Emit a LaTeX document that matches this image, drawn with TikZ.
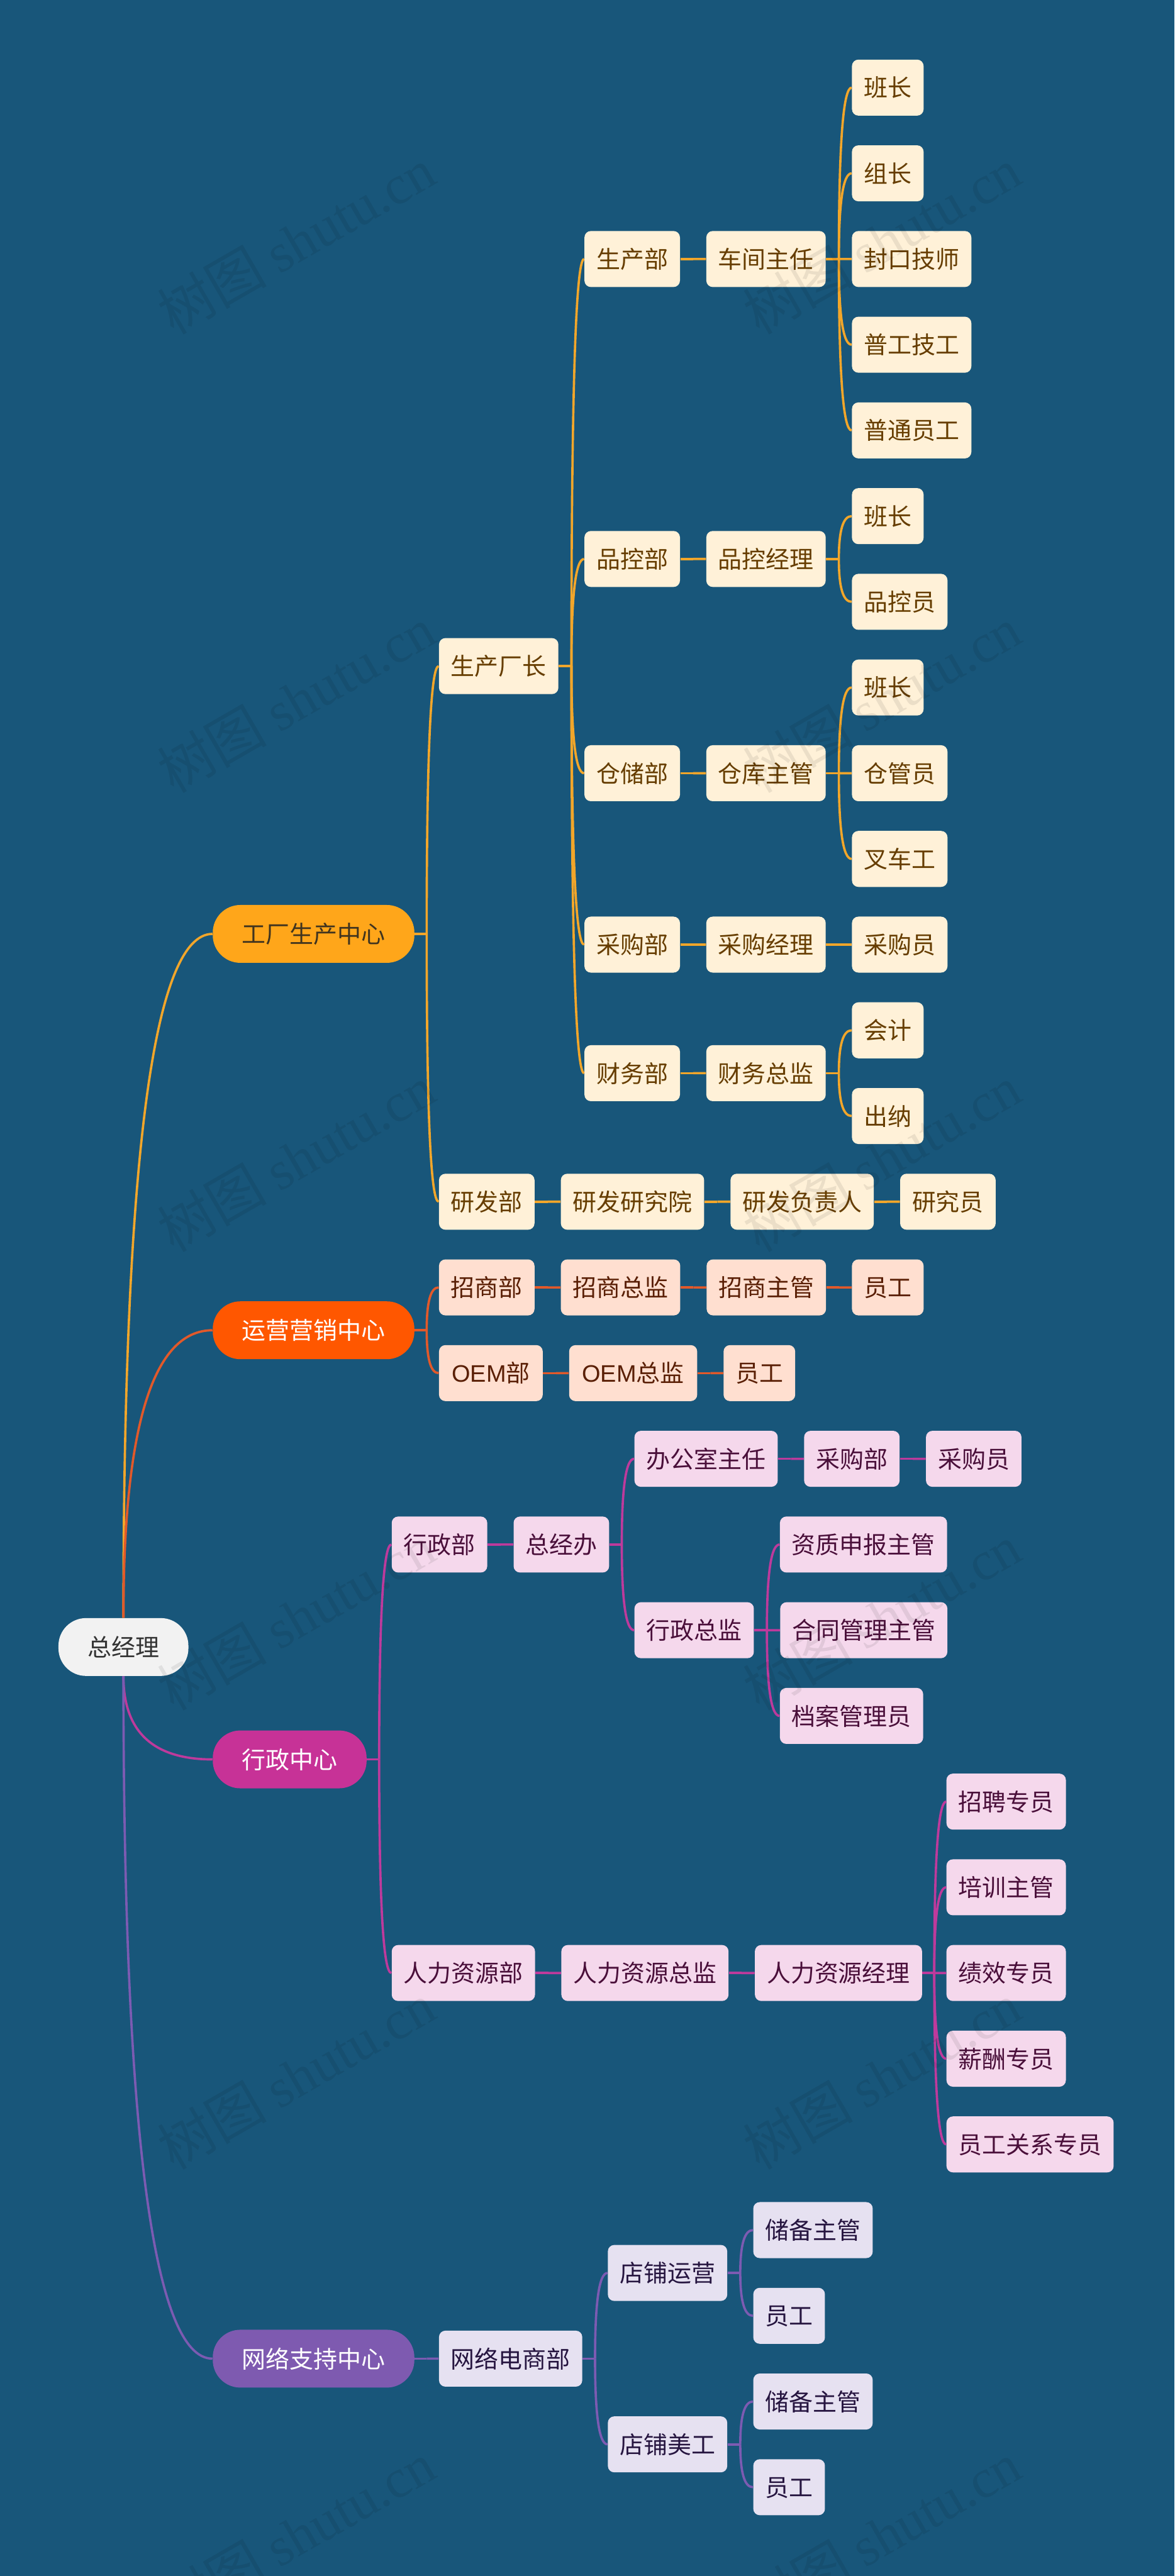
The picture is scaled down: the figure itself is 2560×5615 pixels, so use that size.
\documentclass[tikz,border=0pt]{standalone}
\usepackage{fontspec}
\setmainfont{Noto Sans CJK SC}
\newfontfamily\wmserif{Liberation Serif}
\newfontfamily\oemfont{Liberation Sans}
\usetikzlibrary{positioning,calc}
\definecolor{bgblue}{HTML}{18567A}
\definecolor{lineA}{HTML}{F2A62A}
\definecolor{lineB}{HTML}{E2592A}
\definecolor{lineC}{HTML}{BE3A9C}
\definecolor{lineD}{HTML}{7C5BB2}
\definecolor{hubA}{HTML}{FFA61A}
\definecolor{hubB}{HTML}{FF5700}
\definecolor{hubC}{HTML}{C73297}
\definecolor{hubD}{HTML}{7E5AB0}
\definecolor{hubAtext}{HTML}{40341F}
\definecolor{cream}{HTML}{FFF1D8}
\definecolor{creamtext}{HTML}{663D00}
\definecolor{peach}{HTML}{FFDFD0}
\definecolor{peachtext}{HTML}{5A1F05}
\definecolor{pinkish}{HTML}{F5D8EC}
\definecolor{pinktext}{HTML}{4A0F3A}
\definecolor{lilac}{HTML}{E6E1F1}
\definecolor{lilactext}{HTML}{261540}
\newcommand{\wmtext}{树图 {\wmserif shutu.cn}}
\newcommand{\bend}[3]{
	\draw[#1] (#2) .. controls ($(#2)!2/3!(#2 |- #3)$) and ($(#3)!2/3!(#2 |- #3)$) .. (#3);
}
\newcommand{\branch}[3]{
	\path (#2.east) -- (#2.east -| #3.west) coordinate[midway] (m);
	\draw[#1] (#2.east) -- (m);
	\bend{#1}{m}{#3.west}
}
\tikzset{
	box/.style={rounded corners=0.14cm,minimum height=1.22cm,inner xsep=0.26cm,inner ysep=0pt,
		text height=0.46cm,text depth=0.06cm,font=\fontsize{14.8pt}{18pt}\selectfont},
	creambox/.style={box,fill=cream,text=creamtext},
	peachbox/.style={box,fill=peach,text=peachtext},
	pinkbox/.style={box,fill=pinkish,text=pinktext},
	lilacbox/.style={box,fill=lilac,text=lilactext},
	hub/.style={box,rounded corners=0.6cm,minimum height=1.26cm,inner xsep=0.635cm},
	link/.style={line width=0.05cm},
	wmark/.style={rotate=30,text=black,text opacity=0.08,font=\fontsize{34pt}{40pt}\selectfont}
}
\begin{document}
\begin{tikzpicture}[x=0.01cm,y=-0.01cm,node distance=0.56cm,
		declare function={row(\k)=191+186.8*\k;}]
		\useasboundingbox (0,0) rectangle (2560,5615);
		\fill[bgblue] (0,0) rectangle (2560,5615);

		\node[hub,fill=black!5,text=black!80] (ceo) at (269,3590) {总经理};
		\node[hub,anchor=west,fill=hubA,text=hubAtext] (factory) at (463,{row(9.875)}) {工厂生产中心};
		\node[hub,anchor=west,fill=hubB,text=white] (sales) at (463,{row(14.5)}) {运营营销中心};
		\node[hub,anchor=west,fill=hubC,text=white] (admin) at (463,3835) {行政中心};
		\node[hub,anchor=west,fill=hubD,text=white] (net) at (463,{row(26.5)}) {网络支持中心};

		\node[creambox,anchor=west] (plant) at (956,{row(6.75)}) {生产厂长};
		\node[creambox,anchor=west] (prod) at (1273,{row(2)}) {生产部};
		\node[creambox,right=of prod] (shop) {车间主任};
		\node[creambox,anchor=west] (monitorA) at (1856,{row(0)}) {班长};
		\node[creambox,anchor=west] (leader) at (1856,{row(1)}) {组长};
		\node[creambox,anchor=west] (sealer) at (1856,{row(2)}) {封口技师};
		\node[creambox,anchor=west] (worker) at (1856,{row(3)}) {普工技工};
		\node[creambox,anchor=west] (staff) at (1856,{row(4)}) {普通员工};
		\node[creambox,anchor=west] (qc) at (1273,{row(5.5)}) {品控部};
		\node[creambox,right=of qc] (qcmgr) {品控经理};
		\node[creambox,anchor=west] (monitorB) at (1856,{row(5)}) {班长};
		\node[creambox,anchor=west] (qcer) at (1856,{row(6)}) {品控员};
		\node[creambox,anchor=west] (store) at (1273,{row(8)}) {仓储部};
		\node[creambox,right=of store] (storemgr) {仓库主管};
		\node[creambox,anchor=west] (monitorC) at (1856,{row(7)}) {班长};
		\node[creambox,anchor=west] (keeper) at (1856,{row(8)}) {仓管员};
		\node[creambox,anchor=west] (forklift) at (1856,{row(9)}) {叉车工};
		\node[creambox,anchor=west] (buy) at (1273,{row(10)}) {采购部};
		\node[creambox,right=of buy] (buymgr) {采购经理};
		\node[creambox,anchor=west] (buyer) at (1856,{row(10)}) {采购员};
		\node[creambox,anchor=west] (fin) at (1273,{row(11.5)}) {财务部};
		\node[creambox,right=of fin] (finmgr) {财务总监};
		\node[creambox,anchor=west] (account) at (1856,{row(11)}) {会计};
		\node[creambox,anchor=west] (cashier) at (1856,{row(12)}) {出纳};
		\node[creambox,anchor=west] (rd) at (956,{row(13)}) {研发部};
		\node[creambox,right=of rd] (rdinst) {研发研究院};
		\node[creambox,right=of rdinst] (rdhead) {研发负责人};
		\node[creambox,right=of rdhead] (rdstaff) {研究员};

		\node[peachbox,anchor=west] (invest) at (956,{row(14)}) {招商部};
		\node[peachbox,right=of invest] (invdir) {招商总监};
		\node[peachbox,right=of invdir] (invmgr) {招商主管};
		\node[peachbox,anchor=west] (invstaff) at (1856,{row(14)}) {员工};
		\node[peachbox,anchor=west,minimum width=2.26cm] (oem) at (956,{row(15)}) {{\oemfont OEM}部};
		\node[peachbox,right=of oem,minimum width=2.79cm] (oemdir) {{\oemfont OEM}总监};
		\node[peachbox,right=of oemdir] (oemstaff) {员工};

		\node[pinkbox,anchor=west] (office) at (853,{row(17)}) {行政部};
		\node[pinkbox,right=of office] (gmo) {总经办};
		\node[pinkbox,anchor=west] (ofdir) at (1382,{row(16)}) {办公室主任};
		\node[pinkbox,right=of ofdir] (ofbuy) {采购部};
		\node[pinkbox,right=of ofbuy] (ofbuyer) {采购员};
		\node[pinkbox,anchor=west] (addir) at (1382,{row(18)}) {行政总监};
		\node[pinkbox,anchor=west] (license) at (1699,{row(17)}) {资质申报主管};
		\node[pinkbox,right=of addir] (contract) {合同管理主管};
		\node[pinkbox,anchor=west] (archive) at (1699,{row(19)}) {档案管理员};
		\node[pinkbox,anchor=west] (hr) at (853,{row(22)}) {人力资源部};
		\node[pinkbox,right=of hr] (hrdir) {人力资源总监};
		\node[pinkbox,right=of hrdir] (hrmgr) {人力资源经理};
		\node[pinkbox,anchor=west] (recruit) at (2062,{row(20)}) {招聘专员};
		\node[pinkbox,anchor=west] (train) at (2062,{row(21)}) {培训主管};
		\node[pinkbox,anchor=west] (perf) at (2062,{row(22)}) {绩效专员};
		\node[pinkbox,anchor=west] (pay) at (2062,{row(23)}) {薪酬专员};
		\node[pinkbox,anchor=west] (rel) at (2062,{row(24)}) {员工关系专员};

		\node[lilacbox,anchor=west] (ecom) at (956,{row(26.5)}) {网络电商部};
		\node[lilacbox,anchor=west] (shopop) at (1324,{row(25.5)}) {店铺运营};
		\node[lilacbox,anchor=west] (reserveA) at (1641,{row(25)}) {储备主管};
		\node[lilacbox,anchor=west] (staffA) at (1641,{row(26)}) {员工};
		\node[lilacbox,anchor=west] (shopart) at (1324,{row(27.5)}) {店铺美工};
		\node[lilacbox,anchor=west] (reserveB) at (1641,{row(27)}) {储备主管};
		\node[lilacbox,anchor=west] (staffB) at (1641,{row(28)}) {员工};

		\bend{link,lineA}{ceo.north}{factory.west}
		\bend{link,lineB}{ceo.north}{sales.west}
		\bend{link,lineC}{ceo.south}{admin.west}
		\bend{link,lineD}{ceo.south}{net.west}

		\branch{link,lineA}{factory}{plant}
		\branch{link,lineA}{factory}{rd}
		\branch{link,lineA}{plant}{prod}
		\branch{link,lineA}{plant}{qc}
		\branch{link,lineA}{plant}{store}
		\branch{link,lineA}{plant}{buy}
		\branch{link,lineA}{plant}{fin}
		\branch{link,lineA}{prod}{shop}
		\branch{link,lineA}{shop}{monitorA}
		\branch{link,lineA}{shop}{leader}
		\branch{link,lineA}{shop}{sealer}
		\branch{link,lineA}{shop}{worker}
		\branch{link,lineA}{shop}{staff}
		\branch{link,lineA}{qc}{qcmgr}
		\branch{link,lineA}{qcmgr}{monitorB}
		\branch{link,lineA}{qcmgr}{qcer}
		\branch{link,lineA}{store}{storemgr}
		\branch{link,lineA}{storemgr}{monitorC}
		\branch{link,lineA}{storemgr}{keeper}
		\branch{link,lineA}{storemgr}{forklift}
		\branch{link,lineA}{buy}{buymgr}
		\branch{link,lineA}{buymgr}{buyer}
		\branch{link,lineA}{fin}{finmgr}
		\branch{link,lineA}{finmgr}{account}
		\branch{link,lineA}{finmgr}{cashier}
		\branch{link,lineA}{rd}{rdinst}
		\branch{link,lineA}{rdinst}{rdhead}
		\branch{link,lineA}{rdhead}{rdstaff}

		\branch{link,lineB}{sales}{invest}
		\branch{link,lineB}{sales}{oem}
		\branch{link,lineB}{invest}{invdir}
		\branch{link,lineB}{invdir}{invmgr}
		\branch{link,lineB}{invmgr}{invstaff}
		\branch{link,lineB}{oem}{oemdir}
		\branch{link,lineB}{oemdir}{oemstaff}

		\branch{link,lineC}{admin}{office}
		\branch{link,lineC}{admin}{hr}
		\branch{link,lineC}{office}{gmo}
		\branch{link,lineC}{gmo}{ofdir}
		\branch{link,lineC}{gmo}{addir}
		\branch{link,lineC}{ofdir}{ofbuy}
		\branch{link,lineC}{ofbuy}{ofbuyer}
		\branch{link,lineC}{addir}{license}
		\branch{link,lineC}{addir}{contract}
		\branch{link,lineC}{addir}{archive}
		\branch{link,lineC}{hr}{hrdir}
		\branch{link,lineC}{hrdir}{hrmgr}
		\branch{link,lineC}{hrmgr}{recruit}
		\branch{link,lineC}{hrmgr}{train}
		\branch{link,lineC}{hrmgr}{perf}
		\branch{link,lineC}{hrmgr}{pay}
		\branch{link,lineC}{hrmgr}{rel}

		\branch{link,lineD}{net}{ecom}
		\branch{link,lineD}{ecom}{shopop}
		\branch{link,lineD}{ecom}{shopart}
		\branch{link,lineD}{shopop}{reserveA}
		\branch{link,lineD}{shopop}{staffA}
		\branch{link,lineD}{shopart}{reserveB}
		\branch{link,lineD}{shopart}{staffB}

		\node[wmark] (wmA) at (645,525) {\wmtext};
		\node[wmark] (wmB) at (1922,525) {\wmtext};
		\node[wmark] (wmC) at (645,1525) {\wmtext};
		\node[wmark] (wmD) at (1922,1525) {\wmtext};
		\node[wmark] (wmE) at (645,2525) {\wmtext};
		\node[wmark] (wmF) at (1922,2525) {\wmtext};
		\node[wmark] (wmG) at (645,3525) {\wmtext};
		\node[wmark] (wmH) at (1922,3525) {\wmtext};
		\node[wmark] (wmI) at (645,4525) {\wmtext};
		\node[wmark] (wmJ) at (1922,4525) {\wmtext};
		\node[wmark] (wmK) at (645,5525) {\wmtext};
		\node[wmark] (wmL) at (1922,5525) {\wmtext};
	\end{tikzpicture}
\end{document}
